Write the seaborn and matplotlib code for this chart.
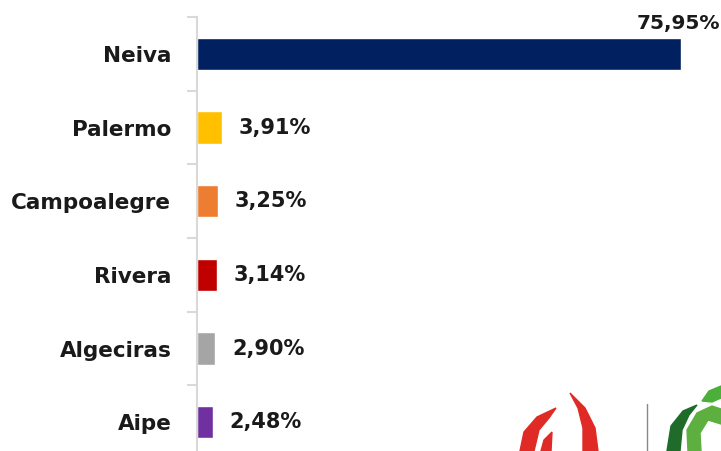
import matplotlib
matplotlib.use("Agg")
import matplotlib.pyplot as plt
import matplotlib.patches as mpatches
import numpy as np
import pandas as pd
import seaborn as sns

municipios = ["Neiva", "Palermo", "Campoalegre", "Rivera", "Algeciras", "Aipe"]
porcentajes = [75.95, 3.91, 3.25, 3.14, 2.90, 2.48]
etiquetas = ["75,95%", "3,91%", "3,25%", "3,14%", "2,90%", "2,48%"]
colores = ["#002060", "#FFC000", "#ED7D31", "#C00000", "#A5A5A5", "#7030A0"]

df = pd.DataFrame({"municipio": municipios, "pct": porcentajes})

sns.set_style("white")
plt.rcParams["font.family"] = ["DejaVu Sans"]

fig = plt.figure(figsize=(7.21, 4.51), dpi=100)
ax = fig.add_axes([197 / 721, 1 - 459 / 451, 1 - 197 / 721, 442 / 451])

sns.barplot(data=df, y="municipio", x="pct", hue="municipio", palette=colores,
            orient="h", width=0.44, saturation=1, legend=False, ax=ax)

ax.set_xlim(0, 524 / 6.373)
ax.set_ylim(5.5, -0.5)
ax.set_xlabel("")
ax.set_ylabel("")
ax.set_xticks([])

for s in ["top", "right", "bottom"]:
    ax.spines[s].set_visible(False)
ax.spines["left"].set_color("#D9D9D9")
ax.spines["left"].set_linewidth(1.5)

ax.set_yticks(range(len(municipios)))
ax.set_yticklabels(municipios, fontsize=15.5, fontweight="bold", color="#1a1a1a")
ax.tick_params(axis="y", which="major", left=False, pad=15)
ax.set_yticks(np.arange(-0.5, len(municipios), 1), minor=True)
ax.tick_params(axis="y", which="minor", left=True, length=7, width=1.5,
               color="#D9D9D9", direction="out")

for i, (v, t) in enumerate(zip(porcentajes, etiquetas)):
    if i == 0:
        ax.annotate(t, (v, i - 0.22), xytext=(-2, 3), textcoords="offset points",
                    ha="center", va="bottom", fontsize=14.5, fontweight="bold",
                    color="#1a1a1a")
    else:
        ax.annotate(t, (v, i), xytext=(12, 0), textcoords="offset points",
                    ha="left", va="center", fontsize=15, fontweight="bold",
                    color="#1a1a1a")

# logo parcial en la esquina inferior derecha
lax = fig.add_axes([0, 0, 1, 1], zorder=5)
lax.set_xlim(0, 721)
lax.set_ylim(451, 0)
lax.axis("off")
rojo = "#E02A26"
lax.add_patch(mpatches.Polygon([(570, 393), (585, 408), (595, 428), (598, 451),
                                (583, 451), (583, 428), (578, 408)], color=rojo))
lax.add_patch(mpatches.Polygon([(520, 451), (524, 432), (537, 417), (556, 408),
                                (549, 418), (539, 430), (534, 451)], color=rojo))
lax.add_patch(mpatches.Polygon([(541, 451), (544, 440), (552, 432), (551, 451)],
                               color=rojo))
lax.plot([647, 647], [404, 451], color="#888888", lw=1)
lax.add_patch(mpatches.Polygon([(667, 451), (671, 426), (683, 411), (697, 405),
                                (689, 415), (682, 430), (680, 451)], color="#1E6B2A"))
lax.add_patch(mpatches.Polygon([(688, 451), (687, 430), (697, 413), (712, 406),
                                (721, 409), (721, 424), (708, 420), (700, 433),
                                (701, 451)], color="#5DB040"))
lax.add_patch(mpatches.Polygon([(702, 401), (709, 391), (721, 386), (721, 398),
                                (712, 402)], color="#4CAF3A"))

fig.savefig("out.png", dpi=100)
